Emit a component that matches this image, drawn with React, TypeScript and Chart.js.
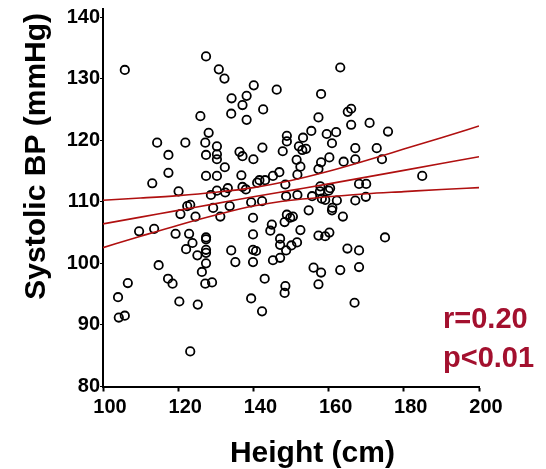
import React, { useEffect, useRef } from "react";
import { Chart, registerables } from "chart.js";

Chart.register(...registerables);

const heights = [
  105.8, 127.4, 130.8, 132.3, 140.1, 146.2, 134.2, 138.2, 137.1, 142.6,
  134.1, 138.2, 125.9, 128.1, 114.4, 121.9, 127.2, 130.3, 148.9, 148.9,
  117.4, 127.4, 130.3, 130.3, 136.3, 137.1, 142.4, 140.0, 147.8, 132.4,
  117.4, 127.4, 130.3, 136.8, 113.1, 120.1, 141.6, 143.1, 145.2, 146.9,
  128.7, 130.3, 132.5, 133.2, 137.1, 138.0, 141.0, 148.5, 148.7, 122.4,
  123.2, 120.6, 124.6, 129.3, 133.7, 131.2, 139.4, 142.3, 139.9, 144.9,
  144.5, 148.3, 148.9, 109.6, 113.6, 119.3, 122.9, 123.8, 122.1, 127.4,
  127.4, 127.4, 127.4, 125.1, 127.4, 126.3, 127.2, 129.0, 134.1, 135.2,
  139.9, 139.9, 140.7, 139.9, 143.0, 145.2, 147.1, 147.1, 147.1, 148.5,
  148.3, 114.8, 117.3, 118.5, 106.6, 104.0, 104.2, 105.8, 120.3, 125.2,
  139.4, 142.3, 123.2, 153.2, 155.4, 152.1, 153.0, 154.0, 151.5, 152.5,
  151.7, 151.7, 155.6, 163.1, 158.0, 166.0, 165.1, 157.3, 166.0, 170.9,
  175.8, 159.5, 162.0, 160.9, 167.1, 172.8, 174.2, 167.1, 164.0, 160.2,
  158.0, 157.3, 184.9, 168.1, 170.0, 157.8, 160.4, 160.0, 157.7, 158.2,
  159.1, 162.2, 167.1, 169.9, 161.0, 160.9, 154.7, 163.8, 149.8, 150.5,
  152.5, 157.3, 159.1, 160.2, 175.0, 151.6, 150.1, 148.7, 165.0, 168.1,
  156.0, 158.0, 163.1, 168.1, 157.3, 166.9,
];

const systolic = [
  131.4, 133.6, 131.5, 130.0, 128.9, 128.2, 126.8, 127.2, 125.7, 125.0,
  124.3, 123.3, 123.9, 121.2, 119.6, 119.6, 119.6, 119.0, 120.7, 119.8,
  117.6, 117.6, 117.7, 116.9, 118.1, 117.4, 118.8, 116.9, 118.2, 115.6,
  114.7, 114.2, 114.2, 114.3, 113.0, 111.7, 113.5, 113.5, 114.2, 114.8,
  111.1, 111.8, 111.5, 112.2, 112.4, 112.0, 113.1, 112.8, 110.9, 109.3,
  109.5, 108.0, 107.6, 109.0, 109.3, 107.6, 109.9, 110.1, 107.4, 106.3,
  105.3, 106.7, 107.9, 105.2, 105.6, 104.8, 104.8, 103.3, 102.3, 104.2,
  103.9, 102.2, 101.7, 101.3, 100.0, 98.6, 96.7, 96.9, 102.1, 100.2,
  104.7, 102.2, 102.0, 100.2, 97.5, 100.5, 104.0, 103.0, 100.9, 96.3,
  95.2, 99.7, 97.5, 96.7, 96.8, 94.5, 91.2, 91.5, 93.8, 93.3,
  94.3, 92.2, 85.7, 120.4, 121.5, 119.0, 118.4, 118.6, 116.8, 115.7,
  114.4, 111.1, 110.9, 131.8, 127.5, 125.1, 124.6, 123.7, 122.5, 122.8,
  121.4, 121.0, 121.3, 119.5, 118.7, 118.7, 116.9, 116.9, 116.5, 117.2,
  116.4, 115.3, 114.2, 112.9, 112.9, 112.5, 112.2, 111.8, 111.7, 110.5,
  110.3, 110.2, 110.2, 110.8, 109.0, 108.6, 108.6, 107.6, 107.4, 107.6,
  105.4, 104.5, 104.4, 105.0, 104.2, 103.4, 102.9, 102.1, 102.4, 102.1,
  99.3, 98.5, 98.9, 99.4, 96.6, 93.6,
];

const fitX = [100, 110, 120, 130, 140, 150, 160, 170, 180, 190, 200];
const fitY = [106.4, 107.5, 108.6, 109.7, 110.8, 111.85, 112.9, 114.0, 115.1, 116.2, 117.3];
const upperY = [110.25, 110.6, 111.0, 111.55, 112.3, 113.45, 114.95, 116.7, 118.55, 120.4, 122.3];
const lowerY = [102.55, 104.4, 106.2, 107.85, 109.3, 110.25, 110.8, 111.3, 111.65, 112.0, 112.3];

const xTicks = [100, 120, 140, 160, 180, 200];
const yTicks = [80, 90, 100, 110, 120, 130, 140];

const xTitle = "Height (cm)";
const yTitle = "Systolic BP (mmHg)";
const statLines = ["r=0.20", "p<0.01"];

const FONT = "'Liberation Sans', Arial, sans-serif";
const LINE_COLOR = "#b01010";
const STAT_COLOR = "#a3102e";

export default function App() {
  const ref = useRef<HTMLCanvasElement | null>(null);

  useEffect(() => {
    if (!ref.current) return;
    const toPts = (xs: number[], ys: number[]) => xs.map((x, i) => ({ x, y: ys[i] }));
    const lineDs = (ys: number[]) => ({
      data: toPts(fitX, ys),
      showLine: true,
      borderColor: LINE_COLOR,
      borderWidth: 1.6,
      pointRadius: 0,
      tension: 0.4,
      cubicInterpolationMode: "monotone" as const,
      fill: false,
    });

    const textPlugin = {
      id: "texts",
      afterDraw(chart: any) {
        const ctx = chart.ctx as CanvasRenderingContext2D;
        const area = chart.chartArea;
        ctx.save();
        ctx.strokeStyle = "#000";
        ctx.lineWidth = 2;
        ctx.beginPath();
        ctx.moveTo(area.left, area.top);
        ctx.lineTo(area.left, area.top - 9);
        ctx.stroke();

        ctx.fillStyle = "#000";
        ctx.font = `bold 30px ${FONT}`;
        ctx.textAlign = "center";
        ctx.textBaseline = "alphabetic";
        ctx.fillText(xTitle, area.left + (area.right - area.left) * 0.557, 462);
        ctx.save();
        ctx.translate(45, area.top + (area.bottom - area.top) * 0.377);
        ctx.rotate(-Math.PI / 2);
        ctx.fillText(yTitle, 0, 0);
        ctx.restore();
        ctx.fillStyle = STAT_COLOR;
        ctx.textAlign = "left";
        ctx.font = `bold 29px ${FONT}`;
        ctx.fillText(statLines[0], 443, 328);
        ctx.fillText(statLines[1], 443, 367);
        ctx.restore();
      },
    };

    const chart = new Chart(ref.current, {
      type: "scatter",
      data: {
        datasets: [
          lineDs(upperY),
          lineDs(fitY),
          lineDs(lowerY),
          {
            data: toPts(heights, systolic),
            pointRadius: 4.2,
            pointBorderWidth: 1.8,
            pointBorderColor: "#000",
            pointBackgroundColor: "rgba(0,0,0,0)",
            showLine: false,
          } as any,
        ],
      },
      options: {
        responsive: false,
        animation: false,
        layout: { padding: { top: 17, right: 67, left: 0, bottom: 0 } },
        plugins: { legend: { display: false }, tooltip: { enabled: false } },
        scales: {
          x: {
            type: "linear",
            min: 100,
            max: 200,
            afterBuildTicks: (s: any) => {
              s.ticks = xTicks.map((v) => ({ value: v }));
            },
            afterFit: (s: any) => {
              s.height = 82.5;
            },
            ticks: {
              color: "#000",
              font: { family: FONT, size: 20, weight: "bold" },
              padding: 4,
              labelOffset: 7,
              maxRotation: 0,
            },
            grid: {
              drawOnChartArea: false,
              drawTicks: true,
              tickLength: 5,
              tickWidth: 2,
              tickColor: "#000",
            },
            border: { color: "#000", width: 2 },
          },
          y: {
            type: "linear",
            min: 80,
            max: 140,
            afterBuildTicks: (s: any) => {
              s.ticks = yTicks.map((v) => ({ value: v }));
            },
            afterFit: (s: any) => {
              s.width = 103;
            },
            ticks: {
              color: "#000",
              font: { family: FONT, size: 20, weight: "bold" },
              padding: 0,
            },
            grid: {
              drawOnChartArea: false,
              drawTicks: true,
              tickLength: 3,
              tickWidth: 1,
              tickColor: "#000",
            },
            border: { color: "#000", width: 2 },
          },
        },
      },
      plugins: [textPlugin],
    });
    return () => chart.destroy();
  }, []);

  return (
    <div style={{ position: "absolute", left: 0, top: 0, width: 546, height: 469, background: "#fff" }}>
      <canvas ref={ref} width={546} height={469} />
    </div>
  );
}
